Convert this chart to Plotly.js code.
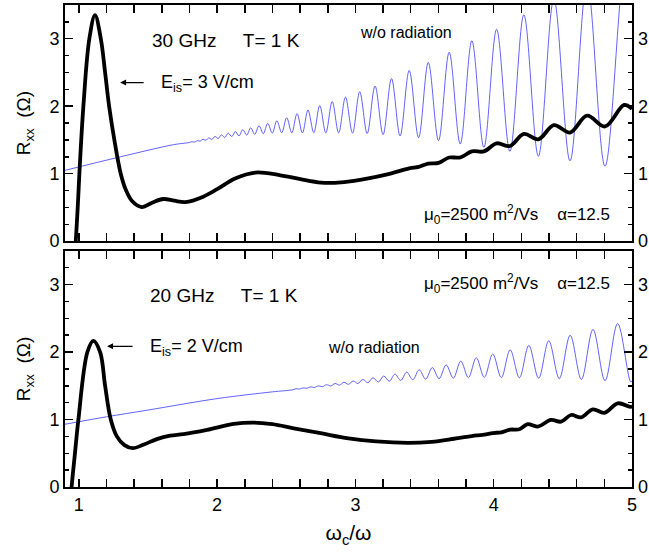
<!DOCTYPE html>
<html>
<head>
<meta charset="utf-8">
<script src="https://cdn.plot.ly/plotly-3.0.1.min.js"></script>
<style>html,body{margin:0;padding:0;background:#fff;}#chart{width:649px;height:552px;}</style>
</head>
<body>
<div id="chart"></div>
<script>
// ---- 30 GHz panel (top) ----
const blueTopX = [
  0.9, 1.3, 1.685, 1.798, 1.817, 1.837, 1.856, 1.877, 1.897, 1.918,
  1.940, 1.962, 1.985, 2.008, 2.031, 2.055, 2.080, 2.106, 2.132, 2.158,
  2.186, 2.214, 2.243, 2.272, 2.303, 2.334, 2.366, 2.399, 2.432, 2.467,
  2.503, 2.540, 2.578, 2.617, 2.657, 2.699, 2.742, 2.786, 2.832, 2.879,
  2.928, 2.979, 3.031, 3.085, 3.142, 3.200, 3.261, 3.323, 3.389, 3.457,
  3.527, 3.601, 3.678, 3.758, 3.842, 3.929, 4.021, 4.117, 4.218, 4.323,
  4.435, 4.552, 4.675, 4.805, 4.955, 5.0
];
const blueTopY = [
  1.05, 1.25, 1.43, 1.462, 1.474, 1.468, 1.490, 1.483, 1.509, 1.496,
  1.530, 1.509, 1.552, 1.522, 1.575, 1.537, 1.600, 1.551, 1.626, 1.561,
  1.653, 1.572, 1.680, 1.583, 1.710, 1.594, 1.745, 1.603, 1.785, 1.607,
  1.830, 1.606, 1.890, 1.604, 1.945, 1.608, 2.010, 1.605, 2.070, 1.605,
  2.135, 1.601, 2.215, 1.596, 2.300, 1.580, 2.410, 1.560, 2.530, 1.535,
  2.650, 1.490, 2.800, 1.440, 2.970, 1.390, 3.140, 1.330, 3.355, 1.260,
  3.590, 1.190, 3.840, 1.110, 4.150, 3.85
];
const blackTopX = [
  0.968, 0.978, 0.992, 1.004, 1.033, 1.076, 1.117, 1.159, 1.19, 1.219,
  1.257, 1.303, 1.342, 1.383, 1.456, 1.53, 1.61, 1.69, 1.77, 1.9,
  2.0, 2.13, 2.277, 2.45, 2.603, 2.75, 2.85, 2.99, 3.23, 3.389,
  3.457, 3.527, 3.601, 3.678, 3.758, 3.842, 3.929, 4.021, 4.117, 4.218,
  4.323, 4.435, 4.552, 4.675, 4.805, 4.943, 5.0
];
const blackTopY = [
  -0.4, 0, 0.5, 1.0, 2.0, 3.0, 3.35, 3.0, 2.5, 2.0,
  1.5, 1.0, 0.75, 0.6, 0.506, 0.57, 0.625, 0.60, 0.58, 0.66,
  0.77, 0.93, 1.017, 0.98, 0.918, 0.868, 0.865, 0.893, 0.99, 1.08,
  1.10, 1.15, 1.16, 1.24, 1.24, 1.33, 1.33, 1.45, 1.41, 1.59,
  1.51, 1.72, 1.61, 1.86, 1.70, 2.02, 1.96
];

// ---- 20 GHz panel (bottom) ----
const blueBotX = [
  0.9, 1.2, 1.5, 2.0, 2.4, 2.545, 2.570, 2.596, 2.622, 2.649,
  2.676, 2.704, 2.733, 2.762, 2.791, 2.822, 2.853, 2.884, 2.917, 2.950,
  2.984, 3.018, 3.054, 3.090, 3.127, 3.166, 3.205, 3.245, 3.286, 3.328,
  3.371, 3.415, 3.461, 3.508, 3.556, 3.605, 3.656, 3.708, 3.762, 3.817,
  3.874, 3.932, 3.993, 4.055, 4.119, 4.186, 4.254, 4.325, 4.398, 4.474,
  4.553, 4.634, 4.718, 4.805, 4.896, 4.990, 5.0
];
const blueBotY = [
  0.93, 1.04, 1.14, 1.31, 1.41, 1.440, 1.456, 1.451, 1.469, 1.463,
  1.484, 1.475, 1.499, 1.487, 1.516, 1.498, 1.534, 1.510, 1.552, 1.522,
  1.571, 1.534, 1.594, 1.545, 1.618, 1.556, 1.645, 1.568, 1.672, 1.579,
  1.702, 1.589, 1.736, 1.599, 1.769, 1.606, 1.809, 1.613, 1.865, 1.620,
  1.915, 1.623, 1.972, 1.621, 2.032, 1.618, 2.097, 1.613, 2.167, 1.607,
  2.248, 1.595, 2.335, 1.575, 2.422, 1.560, 1.57
];
const blackBotX = [
  0.935, 0.948, 0.972, 0.997, 1.062, 1.105, 1.154, 1.19, 1.231, 1.275,
  1.33, 1.39, 1.47, 1.564, 1.66, 1.757, 1.927, 2.12, 2.265, 2.4,
  2.554, 2.748, 2.95, 3.15, 3.38, 3.55, 3.714, 3.874, 3.932, 3.993,
  4.055, 4.119, 4.186, 4.245, 4.318, 4.415, 4.487, 4.559, 4.632, 4.717,
  4.80, 4.897, 4.98, 5.0
];
const blackBotY = [
  -0.4, 0, 0.5, 1.0, 2.0, 2.165, 2.0, 1.5, 1.0, 0.75,
  0.62, 0.575, 0.63, 0.71, 0.76, 0.782, 0.846, 0.935, 0.954, 0.93,
  0.87, 0.797, 0.72, 0.675, 0.655, 0.67, 0.715, 0.765, 0.775, 0.80,
  0.81, 0.85, 0.855, 0.93, 0.895, 0.993, 0.968, 1.067, 1.033, 1.151,
  1.10, 1.24, 1.19, 1.19
];

// ---- axis ticks and labels ----
const xRange = [0.9, 5];
const yRange = [0, 3.5];
const xTickVals = [1, 2, 3, 4, 5];
const xTickText = ['1', '2', '3', '4', '5'];
const yTickVals = [0, 1, 2, 3];
const yTickText = ['0', '1', '2', '3'];

const FONT = 'Liberation Sans, Arial, Helvetica, sans-serif';
const BLUE = '#3a3aff';

function line(x, y, xa, ya, color, width) {
  return {x: x, y: y, xaxis: xa, yaxis: ya, type: 'scatter', mode: 'lines',
          line: {color: color, width: width, shape: 'spline', smoothing: 1},
          hoverinfo: 'skip', showlegend: false};
}

const traces = [
  line(blueTopX, blueTopY, 'x2', 'y2', BLUE, 0.8),
  line(blackTopX, blackTopY, 'x2', 'y2', '#000', 3.8),
  line(blueBotX, blueBotY, 'x', 'y', BLUE, 0.8),
  line(blackBotX, blackBotY, 'x', 'y', '#000', 3.8),
  {x: [1], y: [1], xaxis: 'x', yaxis: 'y3', type: 'scatter', mode: 'none', hoverinfo: 'skip', showlegend: false},
  {x: [1], y: [1], xaxis: 'x2', yaxis: 'y4', type: 'scatter', mode: 'none', hoverinfo: 'skip', showlegend: false}
];

const minorX = {dtick: 0.2, tick0: 0, ticks: 'inside', ticklen: 4, tickwidth: 1.5, tickcolor: '#000'};
const minorY = {dtick: 0.25, tick0: 0, ticks: 'inside', ticklen: 4, tickwidth: 1.5, tickcolor: '#000'};

function xAxis(anchor, labels) {
  return {
    domain: [0, 1], range: xRange, anchor: anchor, showline: true, linewidth: 2, linecolor: '#000',
    mirror: 'allticks', ticks: 'inside', ticklen: 8, tickwidth: 1.5, tickcolor: '#000',
    tickmode: 'array', tickvals: xTickVals, ticktext: xTickText, showticklabels: labels,
    minor: minorX, showgrid: false, zeroline: false, fixedrange: true,
    tickfont: {family: FONT, size: 18, color: '#000'}
  };
}
function yAxis(domain, anchor) {
  return {
    domain: domain, range: yRange, anchor: anchor, showline: true, linewidth: 2, linecolor: '#000',
    mirror: 'allticks', ticks: 'inside', ticklen: 8, tickwidth: 1.5, tickcolor: '#000',
    tickmode: 'array', tickvals: yTickVals, ticktext: yTickText, ticklabelstandoff: 0,
    minor: minorY, showgrid: false, zeroline: false, fixedrange: true,
    tickfont: {family: FONT, size: 18, color: '#000'},
    title: {text: 'R<sub>xx</sub>  (Ω)', font: {family: FONT, size: 19, color: '#000'}, standoff: 14}
  };
}
function yRight(over, anchor) {
  return {
    overlaying: over, side: 'right', anchor: anchor, range: yRange, showline: false, ticks: '',
    tickmode: 'array', tickvals: yTickVals, ticktext: yTickText, ticklabelstandoff: 5,
    showgrid: false, zeroline: false, fixedrange: true,
    tickfont: {family: FONT, size: 18, color: '#000'}
  };
}

const xa = xAxis('y', true);
xa.title = {text: 'ω<sub>c</sub>/ω', font: {family: FONT, size: 21, color: '#000'}, standoff: 12};
const xa2 = xAxis('y2', false);
xa2.matches = 'x';

function ann(xr, yr, x, y, text, size) {
  return {xref: xr, yref: yr, x: x, y: y, text: text, showarrow: false, xanchor: 'left', yanchor: 'middle',
          font: {family: FONT, size: size, color: '#000'}};
}
function arrow(xr, yr, x, y, ax) {
  return {xref: xr, yref: yr, x: x, y: y, ax: ax, ay: 0, text: '', showarrow: true,
          font: {size: 2}, arrowhead: 2, arrowsize: 1, arrowwidth: 1.2, arrowcolor: '#000'};
}

const annotations = [
  ann('x2', 'y2', 1.516, 2.976, '30 GHz&nbsp;&nbsp;&nbsp;&nbsp;&nbsp;T= 1 K', 19),
  arrow('x2', 'y2', 1.2986, 2.351, 25),
  ann('x2', 'y2', 1.578, 2.33, 'E<sub>is</sub>= 3 V/cm', 18),
  ann('x2', 'y2', 3.016, 3.095, 'w/o radiation', 16),
  ann('x2', 'y2', 3.479, 0.40, 'μ<sub>0</sub>=2500 m<sup>2</sup>/Vs&nbsp;&nbsp;&nbsp;&nbsp;α=12.5', 17),
  ann('x', 'y', 1.501, 2.838, '20 GHz&nbsp;&nbsp;&nbsp;&nbsp;&nbsp;T= 1 K', 19),
  arrow('x', 'y', 1.204, 2.085, 27),
  ann('x', 'y', 1.500, 2.06, 'E<sub>is</sub>= 2 V/cm', 18),
  ann('x', 'y', 2.79, 2.063, 'w/o radiation', 16),
  ann('x', 'y', 3.479, 3.01, 'μ<sub>0</sub>=2500 m<sup>2</sup>/Vs&nbsp;&nbsp;&nbsp;&nbsp;α=12.5', 17)
];

const layout = {
  width: 649, height: 552,
  margin: {l: 65, r: 17, t: 5, b: 65, pad: 0},
  paper_bgcolor: '#fff', plot_bgcolor: '#fff',
  font: {family: FONT, size: 18, color: '#000'},
  showlegend: false,
  xaxis: xa,
  xaxis2: xa2,
  yaxis: yAxis([0, 0.49], 'x'),
  yaxis2: yAxis([0.51, 1], 'x2'),
  yaxis3: yRight('y', 'x'),
  yaxis4: yRight('y2', 'x2'),
  annotations: annotations
};

Plotly.newPlot('chart', traces, layout, {displayModeBar: false, staticPlot: true});
</script>
</body>
</html>
